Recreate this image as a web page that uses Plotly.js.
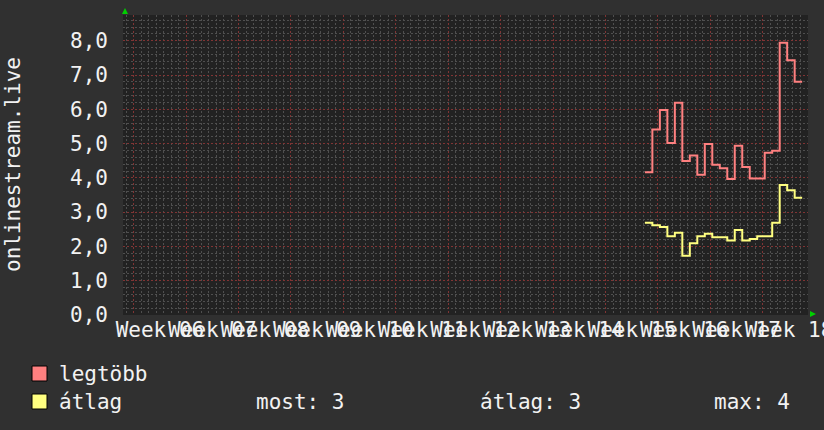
<!DOCTYPE html>
<html>
<head>
<meta charset="utf-8">
<script src="https://cdn.plot.ly/plotly-3.0.1.min.js"></script>
<style>
  html, body { margin: 0; padding: 0; background: #303030; }
  #chart { width: 824px; height: 430px; }
</style>
</head>
<body>
<div id="chart"></div>
<script>
// napi minták (csak az utolsó három hét van adat)
var days = [
    '2024-04-13 06:00', '2024-04-14 06:00', '2024-04-15 06:00', '2024-04-16 06:00',
    '2024-04-17 06:00', '2024-04-18 06:00', '2024-04-19 06:00', '2024-04-20 06:00',
    '2024-04-21 06:00', '2024-04-22 06:00', '2024-04-23 06:00', '2024-04-24 06:00',
    '2024-04-25 06:00', '2024-04-26 06:00', '2024-04-27 06:00', '2024-04-28 06:00',
    '2024-04-29 06:00', '2024-04-30 06:00', '2024-05-01 06:00', '2024-05-02 06:00',
    '2024-05-03 06:00', '2024-05-04 06:00'
];
var legtobb = [4.16, 5.41, 5.98, 5.02, 6.19, 4.49, 4.65, 4.09, 4.99, 4.38, 4.28,
               3.97, 4.94, 4.32, 3.98, 3.98, 4.73, 4.79, 7.94, 7.43, 6.80, 6.80];
var atlag   = [2.69, 2.62, 2.57, 2.30, 2.40, 1.73, 2.09, 2.30, 2.37, 2.27, 2.27,
               2.17, 2.48, 2.17, 2.22, 2.30, 2.30, 2.69, 3.79, 3.64, 3.42, 3.42];

var seriesNames  = ['legtöbb', 'átlag'];
var seriesColors = ['#ff8080', '#ffff80'];

// heti címkék (a hét közepére kerülnek)
var weekMid   = ['2024-02-08 12:00', '2024-02-15 12:00', '2024-02-22 12:00', '2024-02-29 12:00',
                 '2024-03-07 12:00', '2024-03-14 12:00', '2024-03-21 12:00', '2024-03-28 12:00',
                 '2024-04-04 12:00', '2024-04-11 12:00', '2024-04-18 12:00', '2024-04-25 12:00',
                 '2024-05-02 12:00'];
var weekLabel = ['Week 06', 'Week 07', 'Week 08', 'Week 09', 'Week 10', 'Week 11', 'Week 12',
                 'Week 13', 'Week 14', 'Week 15', 'Week 16', 'Week 17', 'Week 18'];

var statLabels = ['most:', 'átlag:', 'max:'];
var statValues = [3, 3, 4];

var xRange = ['2024-02-03 13:41', '2024-05-05 00:43'];

// rajzterület pixelben
var L = 123, R = 808, T = 15, B = 315;
var W = R - L, H = B - T;
function px(x) { return (x - L) / W; }
function py(y) { return (B - y) / H; }

var FONT = 'DejaVu Sans Mono';
var TXT = '#f2f2f2';
var MINOR = '#4f4f4f';
var MAJOR = '#803434';

var data = [
    {
        x: days, y: legtobb, name: seriesNames[0],
        type: 'scatter', mode: 'lines',
        line: { color: seriesColors[0], width: 2, shape: 'hv' },
        showlegend: false, hoverinfo: 'skip'
    },
    {
        x: days, y: atlag, name: seriesNames[1],
        type: 'scatter', mode: 'lines',
        line: { color: seriesColors[1], width: 2, shape: 'hv' },
        showlegend: false, hoverinfo: 'skip'
    },
    {
        // üres nyom, hogy a címke-tengely (x2) kirajzolódjon
        x: weekMid, y: weekMid.map(function () { return null; }),
        xaxis: 'x2', yaxis: 'y',
        type: 'scatter', mode: 'lines', showlegend: false, hoverinfo: 'skip'
    }
];

var layout = {
    width: 824,
    height: 430,
    margin: { l: L, r: 824 - R, t: T, b: 430 - B },
    paper_bgcolor: '#303030',
    plot_bgcolor: '#222222',
    font: { family: FONT, size: 21, color: TXT },
    separators: ',.',
    xaxis: {
        type: 'date',
        range: xRange,
        tick0: '2024-02-05',
        dtick: 7 * 86400000,
        showticklabels: false,
        ticks: '',
        showgrid: true,
        gridcolor: MAJOR,
        griddash: '2px,2px',
        gridwidth: 1,
        minor: {
            tick0: '2024-02-05',
            dtick: 86400000,
            showgrid: true,
            gridcolor: MINOR,
            griddash: '2px,2px',
            gridwidth: 1
        },
        zeroline: false,
        showline: false,
        fixedrange: true
    },
    xaxis2: {
        type: 'date',
        overlaying: 'x',
        anchor: 'y',
        side: 'bottom',
        range: xRange,
        tickmode: 'array',
        tickvals: weekMid,
        ticktext: weekLabel,
        tickangle: 0,
        ticks: '',
        ticklabelstandoff: 0,
        ticklabeloverflow: 'allow',
        showgrid: false,
        zeroline: false,
        showline: false,
        tickfont: { family: FONT, size: 21, color: TXT },
        fixedrange: true
    },
    yaxis: {
        range: [0, 8.75],
        dtick: 1,
        tick0: 0,
        tickformat: '.1f',
        ticks: '',
        ticklabelstandoff: 14,
        showgrid: true,
        gridcolor: MAJOR,
        griddash: '2px,2px',
        gridwidth: 1,
        minor: {
            dtick: 0.2,
            showgrid: true,
            gridcolor: MINOR,
            griddash: '2px,2px',
            gridwidth: 1
        },
        zeroline: false,
        showline: false,
        tickfont: { family: FONT, size: 21, color: TXT },
        fixedrange: true
    },
    shapes: [
        // zöld nyilak a tengelyek végén
        { type: 'path', xref: 'paper', yref: 'paper', layer: 'above',
          path: 'M ' + px(122) + ' ' + py(14) + ' L ' + px(128) + ' ' + py(14) + ' L ' + px(125) + ' ' + py(8) + ' Z',
          fillcolor: '#00d000', line: { width: 0 } },
        { type: 'path', xref: 'paper', yref: 'paper', layer: 'above',
          path: 'M ' + px(810) + ' ' + py(311) + ' L ' + px(810) + ' ' + py(317) + ' L ' + px(816) + ' ' + py(314) + ' Z',
          fillcolor: '#00d000', line: { width: 0 } },
        // jelmagyarázat négyzetei
        { type: 'rect', xref: 'paper', yref: 'paper',
          x0: px(32), x1: px(47), y0: py(381), y1: py(366),
          fillcolor: seriesColors[0], line: { color: '#000000', width: 1 } },
        { type: 'rect', xref: 'paper', yref: 'paper',
          x0: px(32), x1: px(47), y0: py(409), y1: py(394),
          fillcolor: seriesColors[1], line: { color: '#000000', width: 1 } }
    ],
    annotations: [
        { text: 'onlinestream.live', xref: 'paper', yref: 'paper',
          x: px(13), y: py(165), textangle: -90, showarrow: false,
          xanchor: 'center', yanchor: 'middle', font: { family: FONT, size: 21, color: TXT } },
        { text: seriesNames[0], xref: 'paper', yref: 'paper',
          x: px(57), y: py(374), showarrow: false, xanchor: 'left', yanchor: 'middle' },
        { text: seriesNames[1], xref: 'paper', yref: 'paper',
          x: px(57), y: py(402), showarrow: false, xanchor: 'left', yanchor: 'middle' },
        { text: statLabels[0] + ' ' + statValues[0], xref: 'paper', yref: 'paper',
          x: px(254), y: py(402), showarrow: false, xanchor: 'left', yanchor: 'middle' },
        { text: statLabels[1] + ' ' + statValues[1], xref: 'paper', yref: 'paper',
          x: px(478), y: py(402), showarrow: false, xanchor: 'left', yanchor: 'middle' },
        { text: statLabels[2] + ' ' + statValues[2], xref: 'paper', yref: 'paper',
          x: px(712), y: py(402), showarrow: false, xanchor: 'left', yanchor: 'middle' }
    ]
};

Plotly.newPlot('chart', data, layout, { displayModeBar: false, staticPlot: true });
</script>
</body>
</html>
